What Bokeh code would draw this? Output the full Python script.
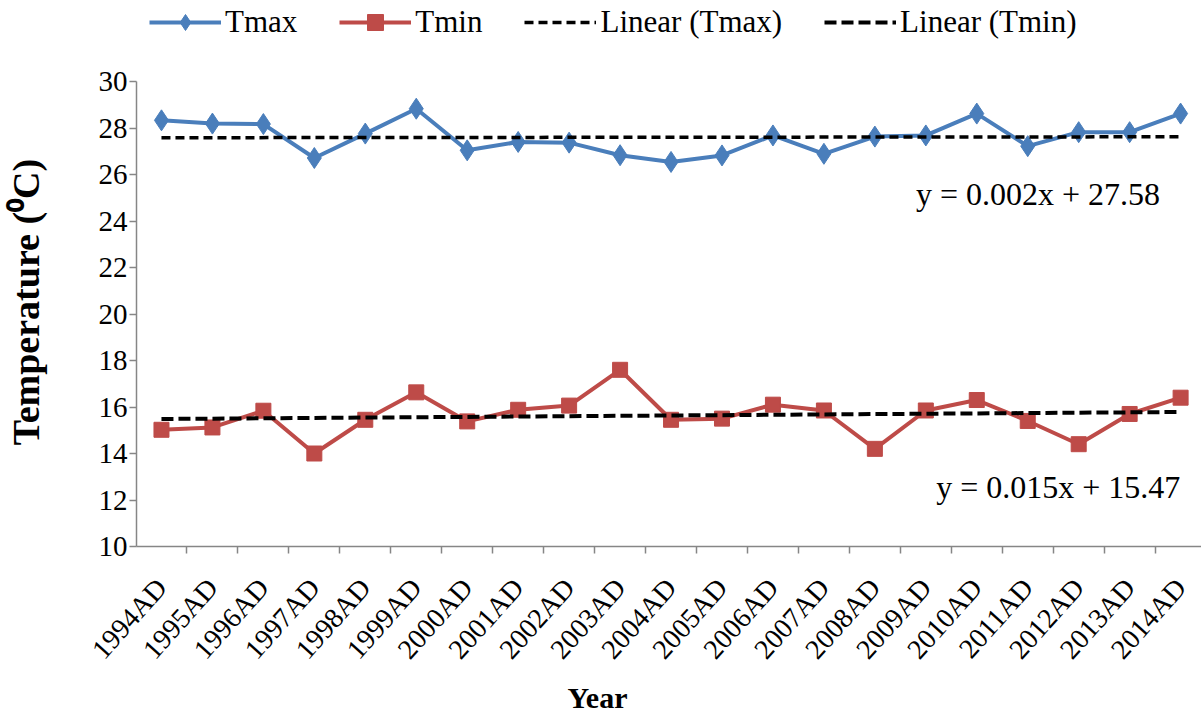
import numpy as np
from bokeh.plotting import figure
from bokeh.models import Range1d, FixedTicker, Legend, LegendItem, Label, Title
from bokeh.embed import file_html
from bokeh.resources import INLINE

# ---------------- data ----------------
years = ["1994AD", "1995AD", "1996AD", "1997AD", "1998AD", "1999AD", "2000AD",
         "2001AD", "2002AD", "2003AD", "2004AD", "2005AD", "2006AD", "2007AD",
         "2008AD", "2009AD", "2010AD", "2011AD", "2012AD", "2013AD", "2014AD"]
tmax = [28.33, 28.19, 28.17, 26.71, 27.76, 28.83, 27.04, 27.40, 27.37, 26.83, 26.54,
        26.82, 27.68, 26.89, 27.63, 27.68, 28.62, 27.22, 27.82, 27.82, 28.62]
tmin = [15.02, 15.12, 15.84, 14.00, 15.45, 16.63, 15.38, 15.88, 16.06, 17.60, 15.45,
        15.50, 16.10, 15.85, 14.20, 15.85, 16.30, 15.40, 14.40, 15.70, 16.40]
tmax_trend = [0.002, 27.58]   # slope, intercept (x = 1..n)
tmin_trend = [0.015, 15.47]
tmax_eq = "y = 0.002x + 27.58"
tmin_eq = "y = 0.015x + 15.47"
y_ticks = [10, 12, 14, 16, 18, 20, 22, 24, 26, 28, 30]

# ---------------- derived ----------------
n = len(years)
xs = list(range(n))
trend_x = [0, n - 1]
tmax_tr_y = [tmax_trend[0] * (i + 1) + tmax_trend[1] for i in trend_x]
tmin_tr_y = [tmin_trend[0] * (i + 1) + tmin_trend[1] for i in trend_x]

FONT = "Liberation Serif"
BLUE = "#4A7EBB"
RED = "#BE4B48"
AXIS_GRAY = "#868686"

# frame spans the full height above the x axis so the legend can sit inside it;
# the value axis itself is bounded to 10..30
p = figure(width=1201, height=713,
           x_range=Range1d(-0.49, 20.41), y_range=Range1d(10, 33.484),
           output_backend="svg", toolbar_location=None,
           min_border_left=136, min_border_right=0,
           min_border_top=0, min_border_bottom=167)
p.title.text = ""
p.grid.visible = False
p.outline_line_color = None
p.background_fill_color = "white"
p.border_fill_color = "white"

# x axis
xa = p.xaxis[0]
xa.ticker = FixedTicker(ticks=xs, minor_ticks=[i - 0.5 for i in range(n + 1)])
xa.major_label_overrides = {i: years[i] for i in xs}
xa.major_tick_line_color = None
xa.minor_tick_line_color = AXIS_GRAY
xa.minor_tick_line_width = 1.5
xa.minor_tick_out = 7
xa.minor_tick_in = 0
xa.axis_line_color = AXIS_GRAY
xa.axis_line_width = 1.5
xa.major_label_orientation = 0.84
xa.major_label_text_font = FONT
xa.major_label_text_font_size = "28px"
xa.major_label_text_color = "black"
xa.major_label_standoff = 29

# y axis
ya = p.yaxis[0]
ya.bounds = (10, 30)
ya.ticker = FixedTicker(ticks=y_ticks, minor_ticks=[])
ya.major_tick_line_color = AXIS_GRAY
ya.major_tick_line_width = 1.5
ya.major_tick_out = 7
ya.major_tick_in = 0
ya.minor_tick_line_color = None
ya.axis_line_color = AXIS_GRAY
ya.axis_line_width = 1.5
ya.major_label_text_font = FONT
ya.major_label_text_font_size = "29px"
ya.major_label_text_color = "black"
ya.major_label_standoff = 2
# trailing no-break spaces shift the centred title down to sit beside the 10..30 axis
ya.axis_label = "Temperature (\u2070C)" + "\u00a0" * 6
ya.axis_label_text_font = FONT
ya.axis_label_text_font_size = "38px"
ya.axis_label_text_font_style = "bold"
ya.axis_label_text_color = "black"
ya.axis_label_standoff = 49

# series
l_tmax = p.line(xs, tmax, line_color=BLUE, line_width=4)
m_tmax = p.scatter(xs, tmax, marker="diamond", size=21,
                   fill_color=BLUE, line_color=BLUE)
l_tmin = p.line(xs, tmin, line_color=RED, line_width=4)
m_tmin = p.scatter(xs, tmin, marker="square", size=15,
                   fill_color=RED, line_color=RED)
tr_max = p.line(trend_x, tmax_tr_y, line_color="black", line_width=3.5, line_dash="9 5")
tr_min = p.line(trend_x, tmin_tr_y, line_color="black", line_width=4, line_dash="12 5")

# equation labels
for (lx, ly, txt) in [(17.2, 25.18, tmax_eq), (17.6, 12.54, tmin_eq)]:
    p.add_layout(Label(x=lx, y=ly, text=txt, text_align="center", text_baseline="middle",
                       text_font=FONT, text_font_size="32px", text_color="black"))

# x-axis title, positioned like the reference (centred on the whole chart)
p.add_layout(Title(text="Year", align="left", offset=431, standoff=0,
                   text_font=FONT, text_font_size="30px", text_font_style="bold",
                   text_color="black"), "below")

legend = Legend(items=[LegendItem(label="Tmax", renderers=[l_tmax, m_tmax]),
                       LegendItem(label="Tmin", renderers=[l_tmin, m_tmin]),
                       LegendItem(label="Linear (Tmax)", renderers=[tr_max]),
                       LegendItem(label="Linear (Tmin)", renderers=[tr_min])],
                orientation="horizontal", location=(13, 504),
                border_line_color=None, background_fill_alpha=0,
                label_text_font=FONT, label_text_font_size="31px",
                label_text_color="black",
                glyph_width=72, glyph_height=40, spacing=42, label_standoff=4,
                padding=0, margin=0)
p.add_layout(legend)

open("out.html", "w").write(file_html(p, INLINE))
